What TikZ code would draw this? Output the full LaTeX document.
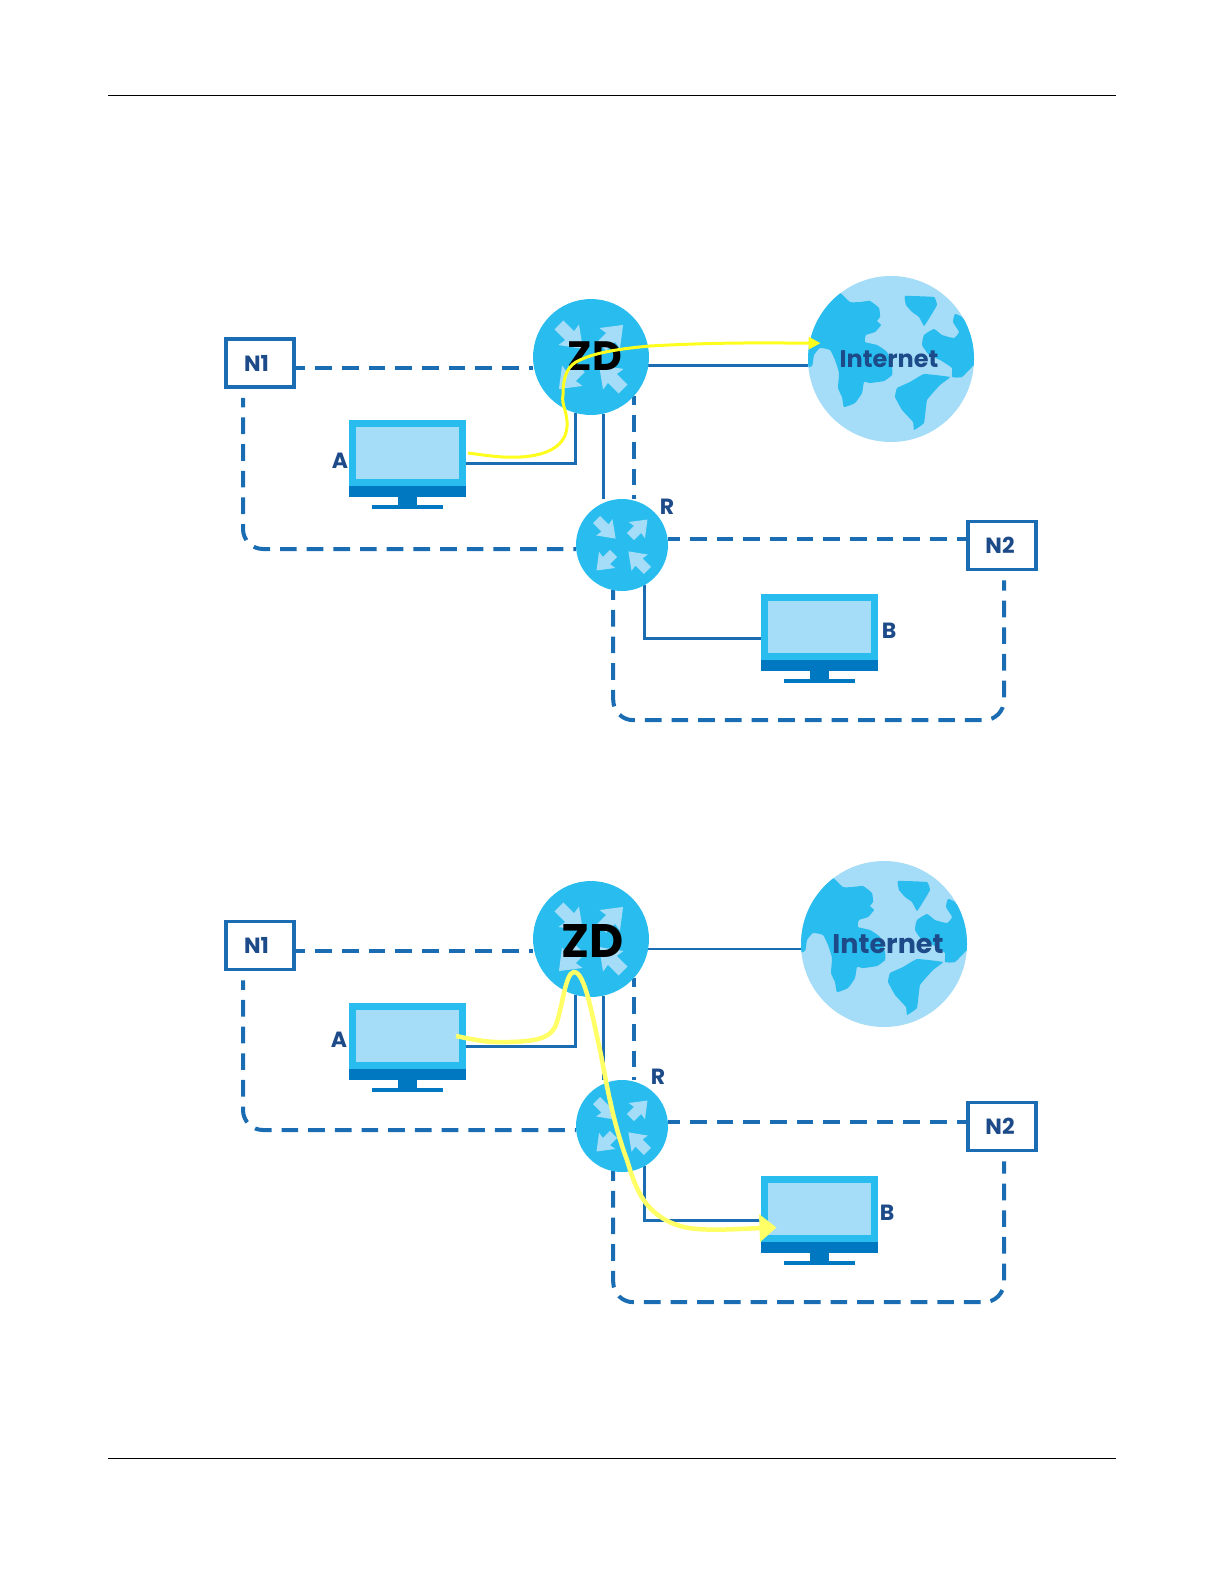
\documentclass[tikz,border=0pt]{standalone}
\usepackage{fontspec}
\setsansfont{Poppins}
\usepackage{xcolor}
\usepackage{tikz}
\usetikzlibrary{arrows.meta, positioning, calc, backgrounds}

\definecolor{routercyan}{HTML}{29BDEF}
\definecolor{lightblue}{HTML}{A5DCF8}
\definecolor{linkblue}{HTML}{1A6CB3}
\definecolor{bandblue}{HTML}{0078C1}
\definecolor{labelnavy}{HTML}{1D4A88}
\definecolor{routea}{HTML}{FFFF1E}
\definecolor{routeb}{HTML}{FFFF66}

\tikzset{
    routerarrows/.pic={
        \foreach \ang in {45,225} {
            \fill[lightblue, rotate=\ang] (12,-5) -- (22,-5) -- (21,-11.5) -- (36,0) -- (21,11.5) -- (22,5) -- (12,5) -- cycle;
        }
        \foreach \ang in {135,-45} {
            \fill[lightblue, rotate=\ang] (36,-5) -- (24,-5) -- (25,-11.5) -- (9,0) -- (25,11.5) -- (24,5) -- (36,5) -- cycle;
        }
    },
    globeland/.pic={
        \fill[routercyan] plot[smooth cycle, tension=0.25] coordinates {(-51,-66) (-41,-57) (-31,-57) (-21,-58) (-12,-51) (-11,-42) (-14,-38) (-10,-34) (-16,-27) (-25,-24) (-26,-17) (-14,-14) (-4,-7) (1,8) (1,16) (-7,22) (-21,24) (-27,23) (-29,34) (-36,44) (-47,48) (-49,38) (-53,29) (-52,14) (-56,1) (-61,-9) (-71,-11) (-77,-4) (-79,7) (-90,8) (-90,-32) (-70,-66)};
        \fill[routercyan] plot[smooth cycle, tension=0.15] coordinates {(14,-63) (43,-62) (46,-54) (39,-42) (33,-33) (28,-42) (21,-47) (15,-54)};
        \fill[routercyan] plot[smooth cycle, tension=0.25] coordinates {(64,-45) (71,-42) (79,-31) (90,-16) (90,4) (83,6) (71,18) (61,18) (61,9) (49,1) (38,-4) (31,-14) (33,-24) (43,-30) (51,-24) (63,-21) (68,-27) (62,-37)};
        \fill[routercyan] plot[smooth cycle, tension=0.15] coordinates {(33,15) (59,18) (49,26) (36,41) (33,64) (23,71) (22,63) (11,51) (4,38) (6,29) (19,23)};
    },
    monitorstand/.pic={
        \fill[bandblue] (-58.5,0) rectangle (58.5,11);
        \fill[bandblue] (-9.5,11) rectangle (9.5,19);
        \fill[bandblue] (-35.5,19) rectangle (35.5,23);
    },
}

\begin{document}
\begin{tikzpicture}[
    x=1pt, y=-1pt,
    font=\sffamily,
    netbox/.style={rectangle, draw=linkblue, fill=white, line width=3.5pt, minimum width=68pt, minimum height=48pt, inner sep=0pt, font=\sffamily\bfseries\fontsize{22}{22}\selectfont, text=labelnavy},
    router/.style={circle, fill=routercyan, inner sep=0pt, outer sep=0pt, minimum size=#1*92pt, path picture={\pic[scale=#1] at (path picture bounding box.center) {routerarrows};}},
    globe/.style={circle, fill=lightblue, inner sep=0pt, outer sep=0pt, minimum size=166pt, text=labelnavy, font=\sffamily\bfseries\fontsize{#1}{#1}\selectfont, path picture={\pic at (path picture bounding box.center) {globeland};}},
    screen/.style={rectangle, draw=routercyan, fill=lightblue, line width=7pt, minimum width=110pt, minimum height=59pt, inner sep=0pt},
    zdlabel/.style={inner sep=0pt, text=black, font=\sffamily\bfseries\fontsize{#1}{#1}\selectfont},
    tag/.style={inner sep=0pt, text=labelnavy, font=\sffamily\bfseries\fontsize{22}{22}\selectfont},
    lan/.style={draw=linkblue, line width=4pt, dash pattern=on 16.67pt off 10pt, dash phase=7pt, rounded corners=20pt},
    link/.style={draw=linkblue, line width=3pt},
    route/.style={draw=routea, line width=3pt, -{Triangle[length=12pt, width=12pt]}},
    routetwo/.style={draw=routeb, line width=4.5pt, -{Triangle[length=17pt, width=27pt]}},
]
    \useasboundingbox (0,0) rectangle (1224,1584);

    % Page rules
    \draw[line width=1pt] (108,96) -- (1116,96);
    \draw[line width=1pt] (108,1458) -- (1116,1458);

    % Top: nodes
    \node[netbox] (n1a) at (260,363) {N1\kern7pt};
    \node[netbox] (n2a) at (1002,545.5) {N2\kern4pt};
    \node[router=1.26] (zda) at (591,357) {};
    \node[router=1] (ra) at (622,545) {};
    \node[globe=24] (neta) at (891,359) {Internet\kern4pt};
    \node[screen] (pca) at (407.5,453) {};
    \node[screen] (pcb) at (819,626.5) {};
    \pic at (pca.south) {monitorstand};
    \pic at (pcb.south) {monitorstand};
    \node[zdlabel=41] (zdtexta) at (595,356) {ZD};

    % Top: labels
    \node[tag] (taga) at (340,461) {A};
    \node[tag] (tagb) at (889,631) {B};
    \node[tag] (tagr) at (667,507) {R};

    % Top: connections
    \begin{scope}[on background layer]
        \draw[lan] (n1a.-8) -- (n1a.-8 -| zda.west);
        \draw[lan] ([xshift=-17pt,yshift=-9pt]n1a.south) |- (ra.185);
        \draw[lan] (n2a.170) -- (n2a.170 -| ra.east);
        \draw[lan] (ra.-101) -- ++(0,130) -| ([xshift=2pt,yshift=-9pt]n2a.south);
        \draw[lan] (zda.-42) -- (zda.-42 |- ra.north);
        \draw[link] (zda.-8) -- (zda.-8 -| neta.west);
        \draw[link] (pca.-10) -| (zda.-106);
        \draw[link] (zda.-78) -- (zda.-78 |- ra.north);
        \draw[link] (pcb.192) -| (ra.-61);
    \end{scope}

    % Top: route
    \draw[route] ([xshift=2pt]pca.east) .. controls (490,456) and (505,458) .. (520,457)
        .. controls (540,456) and (565,450) .. (567,427)
        .. controls (568,412) and (561,405) .. (563,395)
        .. controls (563,375) and (568,365) .. (580,360)
        .. controls (600,350) and (640,347) .. (650,346)
        .. controls (720,342) and (770,343) .. ([xshift=11pt]neta.169);

    % Bottom: nodes
    \node[netbox] (n1b) at (260,945.5) {N1\kern7pt};
    \node[netbox] (n2b) at (1002,1126.5) {N2\kern4pt};
    \node[router=1.26] (zdb) at (591,939) {};
    \node[router=1] (rb) at (622,1126) {};
    \node[globe=27] (netb) at (884,944) {\hspace{8pt}Internet};
    \node[screen] (pcc) at (407.5,1036) {};
    \node[screen] (pcd) at (819,1208.5) {};
    \pic at (pcc.south) {monitorstand};
    \pic at (pcd.south) {monitorstand};
    \node[zdlabel=47] (zdtextb) at (593,941) {ZD};

    % Bottom: labels
    \node[tag] (tagc) at (339,1040) {A};
    \node[tag] (tagd) at (887,1213) {B};
    \node[tag] (tage) at (658,1077) {R};

    % Bottom: connections
    \begin{scope}[on background layer]
        \draw[lan] (n1b.-8) -- (n1b.-8 -| zdb.west);
        \draw[lan] ([xshift=-17pt,yshift=-9pt]n1b.south) |- (rb.185);
        \draw[lan] (n2b.173) -- (n2b.173 -| rb.east);
        \draw[lan] (rb.-101) -- ++(0,131) -| ([xshift=2pt,yshift=-9pt]n2b.south);
        \draw[lan] (zdb.-42) -- (zdb.-42 |- rb.north);
        \draw[link, line width=2.5pt] (zdb.-10) -- (zdb.-10 -| netb.west);
        \draw[link] (pcc.-10) -| (zdb.-106);
        \draw[link] (zdb.-78) -- (zdb.-78 |- rb.north);
        \draw[link] (pcd.192) -| (rb.-61);
    \end{scope}

    % Bottom: route
    \draw[routetwo] ([xshift=-10pt]pcc.east) .. controls (475,1040) and (490,1043) .. (510,1042)
        .. controls (545,1041) and (550,1035) .. (555,1027)
        .. controls (562,1012) and (565,972) .. (574,972)
        .. controls (585,972) and (592,1015) .. (600,1050)
        .. controls (606,1080) and (612,1120) .. (627,1160)
        .. controls (636,1190) and (645,1215) .. (680,1226)
        .. controls (700,1232) and (735,1229) .. ([xshift=16pt]pcd.198.6);
\end{tikzpicture}
\end{document}
